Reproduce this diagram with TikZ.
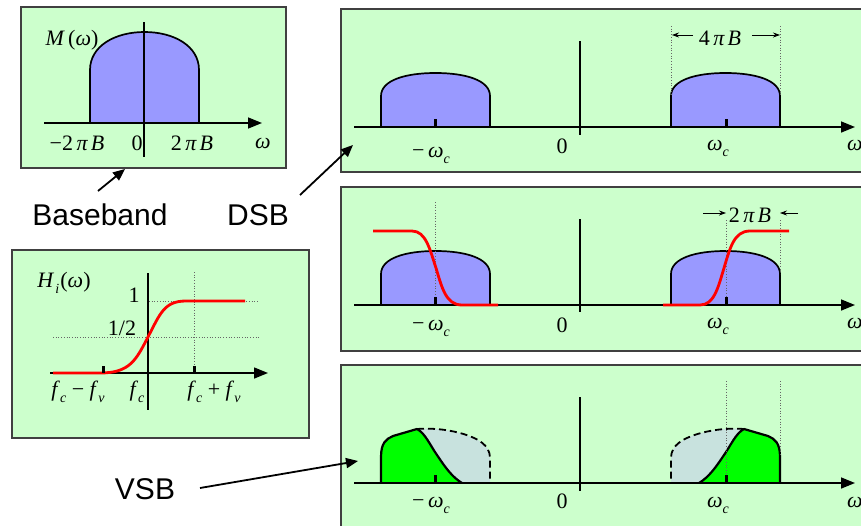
\documentclass[tikz,border=0pt]{standalone}
\usepackage{fontspec}
\setmainfont{Liberation Serif}
\newfontfamily\labelsans{Liberation Sans}
\usetikzlibrary{arrows.meta}
\definecolor{panelgreen}{RGB}{204,255,204}
\definecolor{lobeblue}{RGB}{153,153,255}
\definecolor{vsbgreen}{RGB}{0,255,0}
\definecolor{ghostfill}{RGB}{200,226,222}
\newcommand{\ww}{\textit{ω}}
\newcommand{\sbx}[1]{\raisebox{-0.3em}{\fontsize{14}{14}\selectfont\textit{#1}}}
\newcommand{\mn}{−}
\newcommand{\pib}[1]{#1\hspace{0.16em}\textit{π}\hspace{0.12em}\textit{B}}
\newcommand{\dsblobe}[2]{%
  \begin{scope}[shift={(#1,#2)}]
    \filldraw[lobe] (0,0) -- (0,-31) .. controls (0,-47) and (25,-54) .. (54.5,-54)
      .. controls (84,-54) and (109,-47) .. (109,-31) -- (109,0);
  \end{scope}}
\newcommand{\vsbhalf}[1]{%
  \begin{scope}[#1]
    \fill[ghostfill] (36,-54) .. controls (49,-55) and (64,-54) .. (79,-50)
      .. controls (97,-45) and (109,-38) .. (109,-25) -- (109,0) -- (81,0)
      .. controls (71,-6) and (64,-16) .. (56,-28)
      .. controls (49,-38) and (44,-50) .. (36,-54) -- cycle;
    \filldraw[vsbfill] (0,0) -- (0,-26) .. controls (0,-40) and (5,-44) .. (12,-47)
      -- (36,-54) .. controls (44,-50) and (49,-38) .. (56,-28)
      .. controls (64,-16) and (71,-6) .. (81,0);
    \draw[dashedge] (36,-54) .. controls (49,-55) and (64,-54) .. (79,-50)
      .. controls (97,-45) and (109,-38) .. (109,-25) -- (109,0);
  \end{scope}}
\tikzset{
  panel/.style={fill=panelgreen, draw=black!75, line width=1.2pt},
  axisline/.style={line width=1.5pt, -{Triangle[length=14pt,width=11pt]}},
  vline/.style={line width=1.8pt},
  lobe/.style={fill=lobeblue, draw=black, line width=1.7pt},
  vsbfill/.style={fill=vsbgreen, draw=black, line width=2.2pt, line join=round},
  dashedge/.style={draw=black, line width=1.8pt, dash pattern=on 7pt off 4pt},
  guide/.style={draw=black!60, dotted, line width=0.7pt},
  redc/.style={draw=red, line width=2.8pt},
  lab/.style={font=\fontsize{22}{26}\selectfont, inner sep=0pt, anchor=base},
  big/.style={font=\labelsans\fontsize{30}{36}\selectfont, inner sep=0pt, anchor=base},
  ptr/.style={line width=1.8pt, -{Triangle[length=12pt,width=10pt]}},
  dimarrow/.style={line width=0.8pt, -{Stealth[length=7pt,width=5pt]}},
  tickmark/.style={fill=black}
}
\begin{document}
\begin{tikzpicture}[x=1pt,y=-1pt]
\useasboundingbox (0,0) rectangle (861,525);
\clip (0,0) rectangle (861,525);
% panels
\path[panel] (21,7) rectangle (286,168);
\path[panel] (12,250) rectangle (309,438);
\path[panel] (341,9) rectangle (880,172);
\path[panel] (341,187) rectangle (880,351);
\path[panel] (341,365) rectangle (880,545);

% ---------- baseband panel
\filldraw[lobe] (90,123) -- (90,70) .. controls (90,46) and (115,32) .. (144.5,32)
  .. controls (174,32) and (199,46) .. (199,70) -- (199,123);
\draw[axisline] (44,123) -- (262,123);
\draw[vline] (144,22) -- (144,157);
\node[lab] (mw) at (72,45) {\textit{M}\hspace{0.15em}(\ww)};
\node[lab] (bm) at (77,150) {\mn\pib{2}};
\node[lab] (bz) at (137,150) {0};
\node[lab] (bp) at (192,150) {\pib{2}};
\node[lab] (bw) at (263,148) {\ww};

% ---------- filter panel
\draw[guide] (149,301) -- (258,301);
\draw[guide] (53,337) -- (259,337);
\draw[guide] (194,272) -- (194,373);
\draw[axisline] (50,373) -- (268,373);
\draw[vline] (148,273) -- (148,410);
\draw[redc] (53,373) -- (100,373) .. controls (130,373) and (136,360) .. (148,337)
  .. controls (160,314) and (164,301) .. (186,301) -- (245,301);
\fill[tickmark] (101.5,366) rectangle (104.5,373);
\fill[tickmark] (192.5,366) rectangle (195.5,373);
\node[lab] (hi) at (64,287) {\textit{H}\hspace{0.05em}\sbx{i}\hspace{0.05em}(\ww)};
\node[lab] (one) at (134,302) {1};
\node[lab] (half) at (122,335) {1/2};
\node[lab] (fl) at (78,396) {\textit{f}\sbx{c}\hspace{0.25em}\mn\hspace{0.25em}\textit{f}\sbx{v}};
\node[lab] (fc) at (137,396) {\textit{f}\sbx{c}};
\node[lab] (fr) at (214,396) {\textit{f}\sbx{c}\hspace{0.25em}+\hspace{0.25em}\textit{f}\sbx{v}};

% ---------- DSB panel
\dsblobe{381}{127}
\dsblobe{671}{127}
\draw[guide] (671,26) -- (671,96);
\draw[guide] (780,26) -- (780,96);
\draw[axisline] (354,127) -- (855,127);
\draw[vline] (580,41) -- (580,135);
\fill[tickmark] (433.5,119) rectangle (436.5,127);
\fill[tickmark] (724.5,119) rectangle (727.5,127);
\node[lab] (fb) at (720,45) {\pib{4}};
\coordinate (fbL) at (672,35);
\coordinate (fbR) at (780,35);
\coordinate (fbLs) at (693,35);
\coordinate (fbRs) at (752,35);
\draw[dimarrow] (fbLs) -- (fbL);
\draw[dimarrow] (fbRs) -- (fbR);
\node[lab] (t1) at (431,157) {\mn\,\ww\sbx{c}};
\node[lab] (t2) at (562,153) {0};
\node[lab] (t3) at (718,150) {\ww\sbx{c}};
\node[lab] (t4) at (855,150) {\ww};

% ---------- filtered panel
\dsblobe{381}{305}
\dsblobe{671}{305}
\draw[guide] (435,202) -- (435,305);
\draw[guide] (726,220) -- (726,305);
\draw[guide] (780,220) -- (780,274);
\draw[axisline] (354,305) -- (855,305);
\draw[vline] (580,219) -- (580,312);
\fill[tickmark] (433.5,297) rectangle (436.5,305);
\fill[tickmark] (724.5,297) rectangle (727.5,305);
\draw[redc] (373,231) -- (412,231) .. controls (426,231) and (430,250) .. (436,268)
  .. controls (442,288) and (446,305) .. (462,305) -- (498,305);
\draw[redc] (663,305) -- (700,305) .. controls (714,305) and (718,288) .. (724,268)
  .. controls (730,248) and (734,231) .. (750,231) -- (789,231);
\node[lab] (tb) at (750,222) {\pib{2}};
\coordinate (tbL) at (726,213);
\coordinate (tbR) at (780,213);
\coordinate (tbLs) at (703,213);
\coordinate (tbRs) at (798,213);
\draw[dimarrow] (tbLs) -- (tbL);
\draw[dimarrow] (tbRs) -- (tbR);
\node[lab] (m1) at (431,330) {\mn\,\ww\sbx{c}};
\node[lab] (m2) at (562,332) {0};
\node[lab] (m3) at (718,328) {\ww\sbx{c}};
\node[lab] (m4) at (855,328) {\ww};

% ---------- VSB panel
\vsbhalf{shift={(381,483)}}
\vsbhalf{shift={(780,483)}, xscale=-1}
\draw[guide] (726,381) -- (726,483);
\draw[guide] (780,381) -- (780,455);
\draw[axisline] (354,483) -- (855,483);
\draw[vline] (580,397) -- (580,491);
\fill[tickmark] (433.5,475) rectangle (436.5,483);
\fill[tickmark] (724.5,475) rectangle (727.5,483);
\node[lab] (v1) at (431,507) {\mn\,\ww\sbx{c}};
\node[lab] (v2) at (562,508) {0};
\node[lab] (v3) at (718,507) {\ww\sbx{c}};
\node[lab] (v4) at (855,507) {\ww};

% ---------- labels and pointers
\node[big] (bb) at (100,225) {Baseband};
\node[big] (dsb) at (258,225) {DSB};
\node[big] (vsb) at (145,499) {VSB};
\coordinate (bbS) at (98,191);
\coordinate (bbE) at (125,169);
\coordinate (dsbS) at (300,195);
\coordinate (dsbE) at (353,145);
\coordinate (vsbS) at (200,488);
\coordinate (vsbE) at (358,461);
\draw[ptr] (bbS) -- (bbE);
\draw[ptr] (dsbS) -- (dsbE);
\draw[ptr] (vsbS) -- (vsbE);
\end{tikzpicture}
\end{document}
